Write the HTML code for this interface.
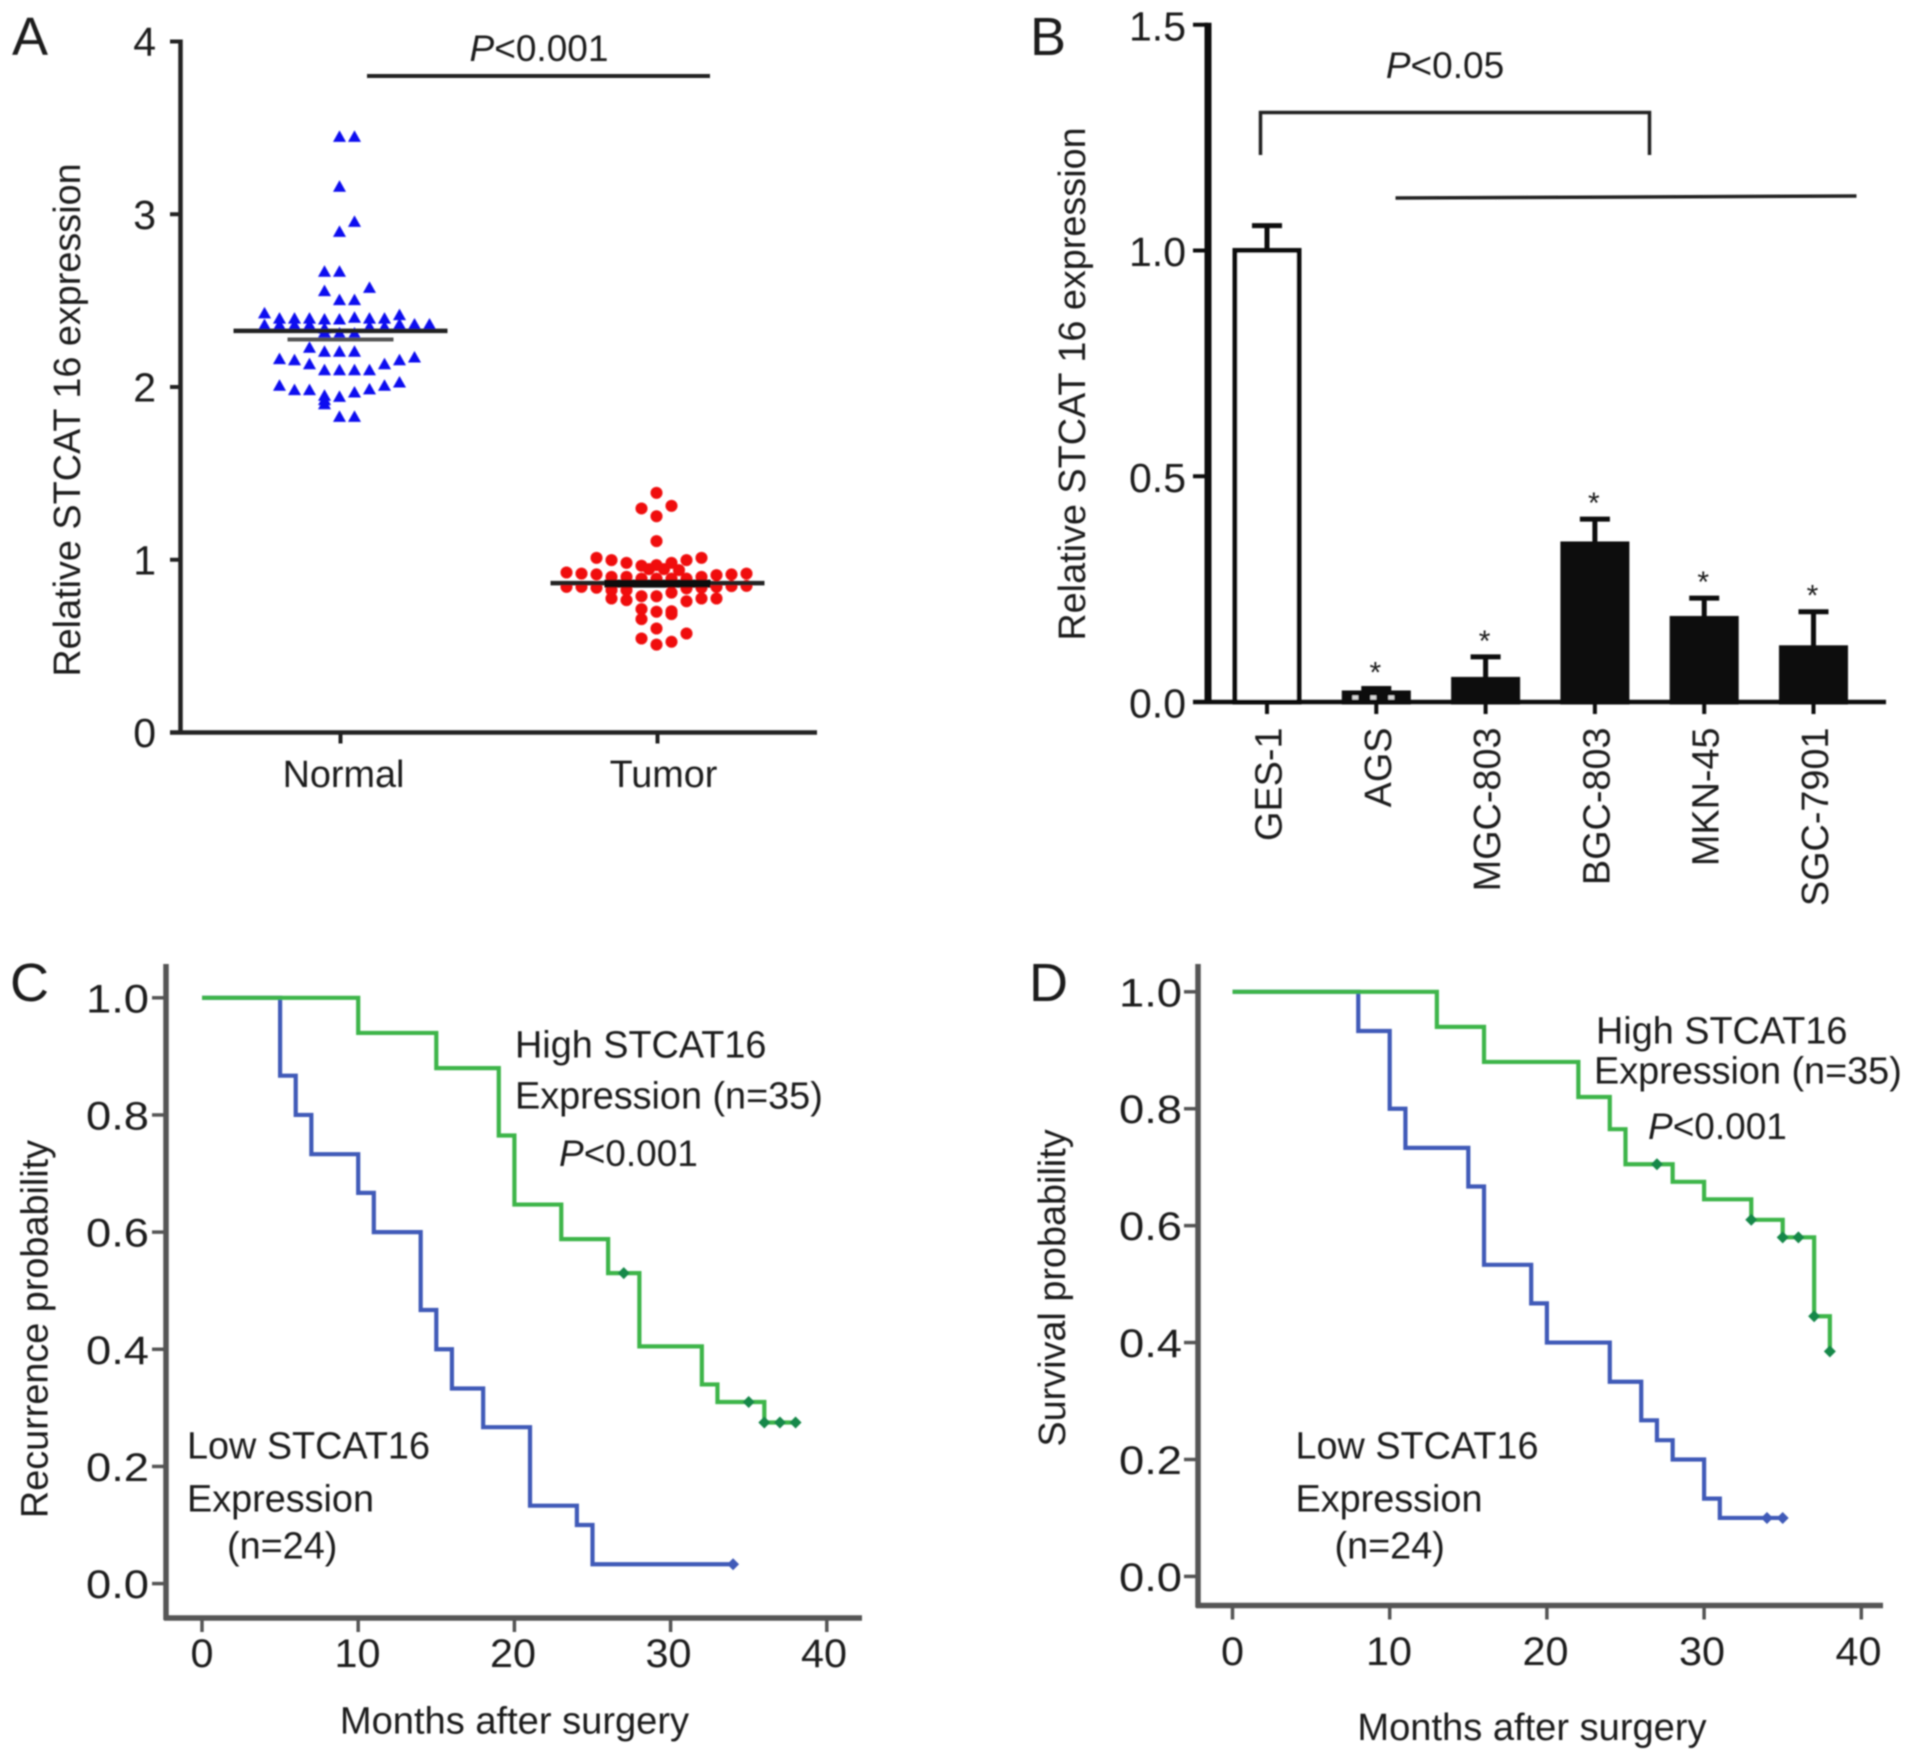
<!DOCTYPE html>
<html lang="en">
<head>
<meta charset="utf-8">
<title>STCAT16 expression figure</title>
<style>
html,body{margin:0;padding:0;background:#fff;width:1913px;height:1761px;overflow:hidden}
svg{display:block}
text{font-family:"Liberation Sans",Arial,sans-serif;fill:#1c1c1c}
.t{font-size:37.8px}
.m{font-size:38.1px}
.p{font-size:37px}
.tick{font-size:41px}
.kmy{font-size:40px}
.kmx{font-size:40px}
.letter{font-size:54px}
</style>
</head>
<body>
<svg id="figure" xmlns="http://www.w3.org/2000/svg" width="1913" height="1761" viewBox="0 0 1913 1761">
<defs><filter id="soft" x="-5%" y="-5%" width="110%" height="110%"><feGaussianBlur stdDeviation="0.7"/></filter></defs>
<rect width="1913" height="1761" fill="#fff"/>
<g id="root" filter="url(#soft)">

<g id="panelA">
<text class="letter" x="12" y="55">A</text>
<text class="t" x="0" y="0" text-anchor="middle" transform="translate(80 420) rotate(-90)">Relative STCAT 16 expression</text>
<text class="p" x="539" y="61" text-anchor="middle"><tspan font-style="italic">P</tspan>&lt;0.001</text>
<line x1="367" y1="76" x2="710" y2="76" stroke="#222" stroke-width="4"/>
</g>

<g id="panelB">
<text class="letter" x="1030" y="55">B</text>
<text class="t" x="0" y="0" text-anchor="middle" transform="translate(1085 384) rotate(-90)">Relative STCAT 16 expression</text>
<text class="p" x="1445" y="78" text-anchor="middle"><tspan font-style="italic">P</tspan>&lt;0.05</text>
<path d="M1263 155V112.5H1652V155" fill="none" stroke="#222" stroke-width="3.5" transform="translate(-2.5 0)"/>
<line x1="1399" y1="198" x2="1860" y2="196" stroke="#222" stroke-width="3.5" transform="translate(-3.5 0)"/>
</g>

<g id="panelC">
<text class="letter" x="10" y="1001">C</text>
<text class="t" x="0" y="0" text-anchor="middle" transform="translate(47.5 1329) rotate(-90)">Recurrence probability</text>
<text class="m" x="514.5" y="1733.5" text-anchor="middle">Months after surgery</text>
<text class="t" x="515" y="1057.5">High STCAT16</text>
<text class="t" x="515" y="1108.5">Expression (n=35)</text>
<text class="p" x="559" y="1166"><tspan font-style="italic">P</tspan>&lt;0.001</text>
<text class="t" x="187" y="1458.5">Low STCAT16</text>
<text class="t" x="187" y="1511.5">Expression</text>
<text class="t" x="227" y="1558.5">(n=24)</text>
</g>

<g id="panelD">
<text class="letter" x="1029" y="1001">D</text>
<text class="t" x="0" y="0" text-anchor="middle" transform="translate(1065 1288) rotate(-90)">Survival probability</text>
<text class="m" x="1532" y="1740" text-anchor="middle">Months after surgery</text>
<text class="t" x="1596" y="1043.5">High STCAT16</text>
<text class="t" x="1594" y="1083.5">Expression (n=35)</text>
<text class="p" x="1648" y="1139"><tspan font-style="italic">P</tspan>&lt;0.001</text>
<text class="t" x="1295.5" y="1458.5">Low STCAT16</text>
<text class="t" x="1295.5" y="1511.5">Expression</text>
<text class="t" x="1334.5" y="1558.5">(n=24)</text>
</g>
</g>
</svg>

<script>
// ---------- Panel A data ----------
const aCategories = ['Normal', 'Tumor'];
const aTickLabels = [0, 1, 2, 3, 4];
const normalValues = [3.448,3.448,3.159,2.898,2.956,2.667,2.667,2.555,2.574,2.503,2.503,
  2.426,2.358,2.396,2.358,2.396,2.358,2.396,2.358,2.391,2.339,2.391,2.401,2.396,2.348,2.396,2.348,2.416,2.362,2.362,2.362,
  2.315,2.310,2.310,2.227,2.204,2.204,2.204,2.161,2.155,2.132,2.097,2.097,2.097,2.097,2.132,2.155,2.171,
  2.007,1.982,1.982,1.949,1.900,1.924,1.943,1.968,1.986,2.007,2.026,1.827,1.827];
const normalBins = [0,1,0,0,1,-1,0,-1,2,0,1,
  -5,-5,-4,-4,-3,-3,-2,-2,-1,-1,0,1,2,2,3,3,4,4,5,6,
  -1,0,1,-2,-1,0,1,-4,-3,-2,-1,0,1,2,3,4,5,
  -4,-3,-2,-1,-1,-1,0,1,2,3,4,0,1];
const tumorValues = [1.387,1.297,1.312,1.252,1.108,
  1.011,0.998,0.982,0.965,0.969,0.982,0.998,1.011,0.946,0.946,0.940,
  0.926,0.920,0.915,0.901,0.901,0.891,0.891,0.891,0.891,0.901,0.911,0.915,0.920,
  0.843,0.843,0.838,0.824,0.824,0.810,0.834,0.838,0.843,0.847,0.849,
  0.776,0.766,0.789,0.789,0.760,0.776,0.776,
  0.714,0.656,0.699,0.702,0.685,0.602,0.544,0.509,0.525,0.573];
const tumorBins = [0,-1,1,0,0,
  -4,-3,-2,-1,0,1,2,3,-0.5,0.5,1.5,
  -6,-5,-4,-3,-2,-1,0,1,2,3,4,5,6,
  -6,-5,-4,-3,-2,1,2,3,4,5,6,
  -3,-2,-1,0,2,3,4,
  -1,-1,0,1,1,0,-1,0,1,2];
const aMeans = [2.325, 0.865];
const aSem = [2.275, 0.862];

// ---------- Panel B data ----------
const bCategories = ['GES-1', 'AGS', 'MGC-803', 'BGC-803', 'MKN-45', 'SGC-7901'];
const bTickLabels = ['0.0', '0.5', '1.0', '1.5'];
const bMeans = [1.0, 0.02, 0.05, 0.35, 0.185, 0.12];
const bErrors = [0.055, 0.01, 0.05, 0.055, 0.045, 0.08];

// ---------- Panels C / D data ----------
const kmTickLabels = ['0.0', '0.2', '0.4', '0.6', '0.8', '1.0'];
const kmMonthTicks = [0, 10, 20, 30, 40];
const cLowMonths = [0,5,6,7,10,11,14,15,16,18,21,24,25,34];
const cLowProb = [1,0.867,0.8,0.733,0.667,0.6,0.467,0.4,0.333,0.267,0.133,0.1,0.033,0.033];
const cHighMonths = [0,10,15,19,20,23,26,28,32,33,36,38];
const cHighProb = [1,0.94,0.88,0.765,0.647,0.588,0.53,0.405,0.34,0.31,0.275,0.275];
const cLowCensorMonths = [34];
const cLowCensorProb = [0.033];
const cHighCensorMonths = [27,35,36,37,38];
const cHighCensorProb = [0.53,0.31,0.275,0.275,0.275];
const dLowMonths = [0,8,10,11,15,16,19,20,24,26,27,28,30,31,35];
const dLowProb = [1,0.933,0.8,0.733,0.667,0.533,0.467,0.4,0.333,0.267,0.233,0.2,0.133,0.1,0.1];
const dHighMonths = [0,13,16,22,24,25,28,30,33,35,37,38];
const dHighProb = [1,0.94,0.88,0.82,0.765,0.705,0.675,0.645,0.61,0.58,0.445,0.385];
const dLowCensorMonths = [34,35];
const dLowCensorProb = [0.1,0.1];
const dHighCensorMonths = [27,33,35,36,37,38];
const dHighCensorProb = [0.705,0.61,0.58,0.58,0.445,0.385];

const NS = 'http://www.w3.org/2000/svg';
function mk(parent, tag, attrs) {
  const n = document.createElementNS(NS, tag);
  for (const k in attrs) n.setAttribute(k, attrs[k]);
  parent.appendChild(n);
  return n;
}
const panelA = document.getElementById('panelA');
const panelB = document.getElementById('panelB');
const panelC = document.getElementById('panelC');
const panelD = document.getElementById('panelD');

// ---------- Panel A ----------
const aY = v => 732.5 - v * 172.75;
const aX = i => 340.5 + i * 317;
const BIN_W = 15;
{
  const axisY = mk(panelA, 'line', {x1:180.5, y1:aY(4)-2, x2:180.5, y2:aY(0)+2, stroke:'#222', 'stroke-width':4.5});
  
  
  const axisX = mk(panelA, 'line', {x1:170, y1:aY(0), x2:817, y2:aY(0), stroke:'#222', 'stroke-width':4.5});
  
  
  aTickLabels.forEach(v => {
    const tk = mk(panelA, 'line', {x1:170, y1:aY(v), x2:181, y2:aY(v), stroke:'#222', 'stroke-width':4});
    
    
    const lb = mk(panelA, 'text', {x:156, y:aY(v)+14.5, 'text-anchor':'end', class:'tick'});
    lb.textContent = v;
    
    
  });
  aCategories.forEach((c, i) => {
    const tk = mk(panelA, 'line', {x1:aX(i), y1:aY(0), x2:aX(i), y2:aY(0)+11, stroke:'#222', 'stroke-width':4});
    
    
    const lb = mk(panelA, 'text', {x:aX(i)+3+i*3, y:787, 'text-anchor':'middle', class:'t'});
    lb.textContent = c;
    
    
  });
  normalValues.forEach((v, i) => {
    const cx = aX(0) - 1 + normalBins[i] * BIN_W, cy = aY(v);
    const p = mk(panelA, 'polygon', {points:`${cx},${cy-6.5} ${cx+6.5},${cy+5} ${cx-6.5},${cy+5}`, fill:'#0a0af0'});
    
    
  });
  tumorValues.forEach((v, i) => {
    const c = mk(panelA, 'circle', {cx:aX(1) - 1 + tumorBins[i] * BIN_W, cy:aY(v), r:6, fill:'#f00808'});
    
    
  });
  aMeans.forEach((m, i) => {
    const l = mk(panelA, 'line', {x1:aX(i)-107, y1:aY(m), x2:aX(i)+107, y2:aY(m), stroke:'#222', 'stroke-width':4.5});
    
    
    const s = mk(panelA, 'line', {x1:aX(i)-53, y1:aY(aSem[i]), x2:aX(i)+53, y2:aY(aSem[i]), stroke: i === 0 ? '#555' : '#111', 'stroke-width': i === 0 ? 4 : 8});
    
    
  });
}

// ---------- Panel B ----------
const bY = v => 702 - v * 451.5;
const bX = i => 1267 + i * 109.3;
{
  const axisY = mk(panelB, 'line', {x1:1208, y1:bY(1.5)-2, x2:1208, y2:bY(0)+2, stroke:'#111', 'stroke-width':7});
  
  
  const axisX = mk(panelB, 'line', {x1:1193, y1:bY(0), x2:1886, y2:bY(0), stroke:'#111', 'stroke-width':4.5});
  
  
  bTickLabels.forEach(s => {
    const v = parseFloat(s);
    const tk = mk(panelB, 'line', {x1:1193, y1:bY(v), x2:1208, y2:bY(v), stroke:'#111', 'stroke-width':4});
    
    
    const lb = mk(panelB, 'text', {x:1186, y:bY(v)+15.5, 'text-anchor':'end', class:'tick'});
    lb.textContent = s;
    
    
  });
  bCategories.forEach((c, i) => {
    const cx = bX(i), top = bY(bMeans[i]), errTop = bY(bMeans[i] + bErrors[i]);
    const err = mk(panelB, 'path', {d:`M${cx} ${top}V${errTop}M${cx-15} ${errTop}H${cx+15}`, fill:'none', stroke:'#111', 'stroke-width':5});
    
    
    const bar = mk(panelB, 'rect', {x:cx-32, y:top, width:64, height:bY(0)-top, fill: i === 0 ? '#fff' : '#0a0a0a', stroke:'#0a0a0a', 'stroke-width':5});
    
    
    if (i === 1) {
      const dots = mk(panelB, 'line', {x1:cx-24, y1:(top+bY(0))/2, x2:cx+24, y2:(top+bY(0))/2, stroke:'#d8d8d8', 'stroke-width':4, 'stroke-dasharray':'6 12'});
      
      
    }
    const tk = mk(panelB, 'line', {x1:cx, y1:bY(0), x2:cx, y2:bY(0)+12, stroke:'#111', 'stroke-width':4});
    
    
    const lb = mk(panelB, 'text', {x:0, y:0, 'text-anchor':'end', class:'t', transform:`translate(${cx+14.5} 727.5) rotate(-90)`});
    lb.textContent = c;
    
    
    if (i > 0) {
      const st = mk(panelB, 'text', {x:cx-1, y:errTop-6, 'text-anchor':'middle', style:'font-size:30px'});
      st.textContent = '*';
      
      
    }
  });
}

// ---------- Kaplan-Meier panels ----------
function stepPath(months, probs, xf, yf) {
  let d = `M${xf(months[0])} ${yf(probs[0])}`;
  for (let i = 1; i < months.length; i++) {
    d += `H${xf(months[i])}V${yf(probs[i])}`;
  }
  return d;
}
function censors(panel, months, probs, xf, yf, color, name) {
  months.forEach((m, i) => {
    const cx = xf(m), cy = yf(probs[i]);
    const p = mk(panel, 'polygon', {points:`${cx},${cy-6} ${cx+6},${cy} ${cx},${cy+6} ${cx-6},${cy}`, fill:color});
    
    
  });
}
function kmAxes(panel, xAxis, xf, yf, yLabelX, xLabelY, xEnd, yBottom, yTop) {
  const ay = mk(panel, 'line', {x1:xAxis, y1:yTop, x2:xAxis, y2:yBottom+2, stroke:'#555', 'stroke-width':5.5});
  
  
  const ax = mk(panel, 'line', {x1:xAxis-2, y1:yBottom, x2:xEnd, y2:yBottom, stroke:'#555', 'stroke-width':5.5});
  
  
  kmTickLabels.forEach(s => {
    const v = parseFloat(s);
    const tk = mk(panel, 'line', {x1:xAxis-14, y1:yf(v), x2:xAxis, y2:yf(v), stroke:'#555', 'stroke-width':3.5});
    
    
    const lb = mk(panel, 'text', {x:yLabelX, y:yf(v)+14.5, 'text-anchor':'end', class:'kmy', textLength:63, lengthAdjust:'spacingAndGlyphs'});
    lb.textContent = s;
    
    
  });
  kmMonthTicks.forEach(m => {
    const tk = mk(panel, 'line', {x1:xf(m), y1:yBottom, x2:xf(m), y2:yBottom+14, stroke:'#555', 'stroke-width':3.5});
    
    
    const lb = mk(panel, 'text', {x:xf(m) - m * 0.07, y:xLabelY, 'text-anchor':'middle', class:'kmx', textLength:String(m).length * 23, lengthAdjust:'spacingAndGlyphs'});
    lb.textContent = m;
    
    
  });
}
const BLUE = '#3f5ab8', GREEN = '#3cb54a', DGREEN = '#14884a';
// Panel C
const cX = m => 202 + m * 15.62;
const cY = p => 1583.6 - p * 585.8;
kmAxes(panelC, 166, cX, cY, 149, 1667, 862, 1618, 964);
const cLowLine = mk(panelC, 'path', {d:stepPath(cLowMonths, cLowProb, cX, cY), fill:'none', stroke:BLUE, 'stroke-width':4.2});


const cHighLine = mk(panelC, 'path', {d:stepPath(cHighMonths, cHighProb, cX, cY), fill:'none', stroke:GREEN, 'stroke-width':4.2});


censors(panelC, cLowCensorMonths, cLowCensorProb, cX, cY, BLUE, 'low-censor-mark');
censors(panelC, cHighCensorMonths, cHighCensorProb, cX, cY, DGREEN, 'high-censor-mark');
// Panel D
const dX = m => 1232.5 + m * 15.72;
const dY = p => 1576.4 - p * 584.6;
kmAxes(panelD, 1198, dX, dY, 1182, 1665, 1883, 1605.5, 964);
const dLowLine = mk(panelD, 'path', {d:stepPath(dLowMonths, dLowProb, dX, dY), fill:'none', stroke:BLUE, 'stroke-width':4.2});


const dHighLine = mk(panelD, 'path', {d:stepPath(dHighMonths, dHighProb, dX, dY), fill:'none', stroke:GREEN, 'stroke-width':4.2});


censors(panelD, dLowCensorMonths, dLowCensorProb, dX, dY, BLUE, 'low-censor-mark');
censors(panelD, dHighCensorMonths, dHighCensorProb, dX, dY, DGREEN, 'high-censor-mark');
</script>
</body>
</html>
